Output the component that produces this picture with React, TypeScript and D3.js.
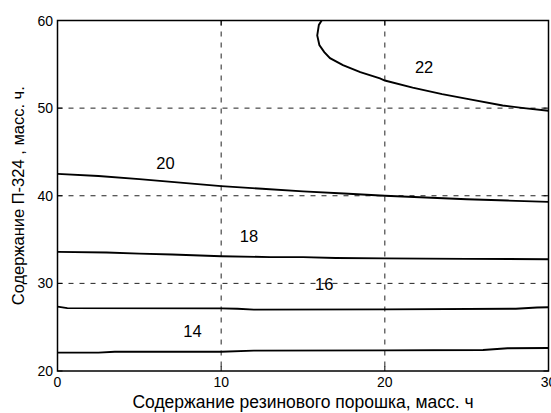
import React from "react";
import * as d3 from "d3";

const xTicks = [0, 10, 20, 30];
const yTicks = [20, 30, 40, 50, 60];
const xGrid = [10, 20];
const yGrid = [30, 40, 50];

const level14: [number, number][] = [
  [0, 22.1], [2.5, 22.1], [3.5, 22.2], [10, 22.2], [12, 22.32], [20, 22.35], [26, 22.4], [27.5, 22.6], [30, 22.62],
];
const level16: [number, number][] = [
  [0, 27.35], [0.6, 27.18], [10, 27.15], [11, 27.1], [12, 27.0], [20, 27.03], [28, 27.1], [29.3, 27.25], [30, 27.28],
];
const level18: [number, number][] = [
  [0, 33.6], [3, 33.52], [5, 33.4], [7, 33.3], [10, 33.1], [13, 33.0], [15, 33.0], [17, 32.9], [20, 32.85], [25, 32.8], [30, 32.75],
];
const level20: [number, number][] = [
  [0, 42.5], [2.5, 42.25], [5, 41.9], [7.5, 41.5], [10, 41.1], [12.5, 40.8], [15, 40.5], [17.5, 40.25], [20, 40.0], [22.5, 39.8], [25, 39.6], [27.5, 39.45], [30, 39.3],
];
const level22: [number, number][] = [
  [16.14, 60], [15.97, 59.5], [15.87, 58.3], [16.0, 57.2], [16.3, 56.4], [16.65, 55.7], [17.44, 54.9], [18.5, 54.1], [19.7, 53.4], [20, 53.15], [21.7, 52.34], [23.5, 51.6], [25.2, 51.0], [27.2, 50.3], [28.5, 50.0], [30, 49.7],
];

const levels = [
  { label: "14", pts: level14, lx: 8.25, ly: 23.85 },
  { label: "16", pts: level16, lx: 16.3, ly: 29.25 },
  { label: "18", pts: level18, lx: 11.7, ly: 34.75 },
  { label: "20", pts: level20, lx: 6.6, ly: 43.05 },
  { label: "22", pts: level22, lx: 22.4, ly: 54.05 },
];

const xLabel = "Содержание резинового порошка, масс. ч";
const yLabel = "Содержание П-324 , масс. ч.";

export default function App() {
  const W = 551, H = 413;
  const left = 57.5, right = 548.5, top = 20.5, bottom = 371;
  const x = d3.scaleLinear().domain([0, 30]).range([left, right]);
  const y = d3.scaleLinear().domain([20, 60]).range([bottom, top]);
  const line = d3.line<[number, number]>().x(d => x(d[0])).y(d => y(d[1]));
  const font = "'Liberation Sans', Arial, sans-serif";
  return (
    <svg width={W} height={H} style={{ position: "absolute", left: 0, top: 0, background: "#fff" }} fontFamily={font}>
      <rect x={0} y={0} width={W} height={H} fill="#fff" />
      {xGrid.map(v => (
        <line key={"gx" + v} x1={x(v)} x2={x(v)} y1={top} y2={bottom} stroke="#222" strokeWidth={1} strokeDasharray="5,6" />
      ))}
      {yGrid.map(v => (
        <line key={"gy" + v} x1={left} x2={right} y1={y(v)} y2={y(v)} stroke="#222" strokeWidth={1} strokeDasharray="5,6" />
      ))}
      {xTicks.map(v => (
        <g key={"tx" + v}>
          <line x1={x(v)} x2={x(v)} y1={bottom} y2={bottom - 5} stroke="#000" />
          <line x1={x(v)} x2={x(v)} y1={top} y2={top + 5} stroke="#000" />
          <text x={x(v)} y={387} fontSize={14} textAnchor="middle" fill="#000">{v}</text>
        </g>
      ))}
      {yTicks.map(v => (
        <g key={"ty" + v}>
          <line x1={left} x2={left + 5} y1={y(v)} y2={y(v)} stroke="#000" />
          <line x1={right} x2={right - 5} y1={y(v)} y2={y(v)} stroke="#000" />
          <text x={53} y={y(v) + 5} fontSize={14} textAnchor="end" fill="#000">{v}</text>
        </g>
      ))}
      {levels.map(l => (
        <g key={l.label}>
          <path d={line(l.pts) || ""} fill="none" stroke="#000" strokeWidth={1.9} />
          <text x={x(l.lx)} y={y(l.ly)} fontSize={16.5} textAnchor="middle" fill="#000">{l.label}</text>
        </g>
      ))}
      <rect x={left} y={top} width={right - left} height={bottom - top} fill="none" stroke="#000" strokeWidth={1.5} />
      <text x={(left + right) / 2} y={408} fontSize={17.5} textAnchor="middle" fill="#000">{xLabel}</text>
      <text transform={`translate(23.5,${(top + bottom) / 2}) rotate(-90)`} fontSize={16.5} textAnchor="middle" fill="#000">{yLabel}</text>
    </svg>
  );
}
